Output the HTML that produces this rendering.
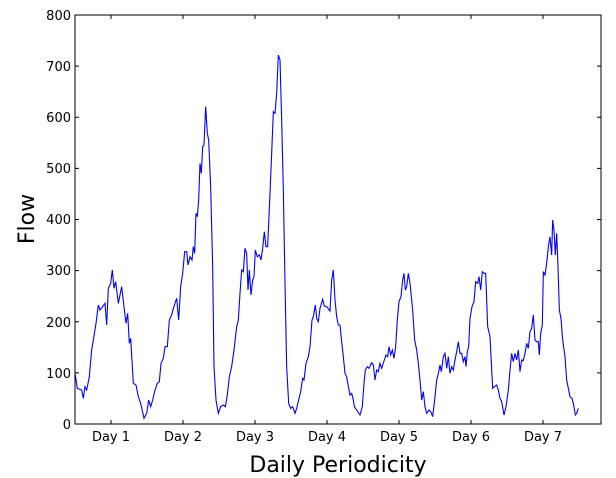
<!DOCTYPE html>
<html><head><style>
html,body{margin:0;padding:0;background:#fff;width:616px;height:478px;overflow:hidden}
svg{display:block}
text{font-family:"DejaVu Sans","Liberation Sans",sans-serif;fill:#000}
</style></head><body>
<svg width="616" height="478" viewBox="0 0 616 478">
<g transform="translate(60,0) scale(0.3333333)">
<polyline fill="none" stroke="#0000ff" stroke-width="1.1" vector-effect="non-scaling-stroke" points="45,1120 52,1165 65,1170 70,1195 75,1160 80,1170 88,1130 95,1050 100,1020 108,970 115,915 120,930 128,920 135,910 140,975 145,865 152,850 157,810 162,865 167,845 175,910 185,860 192,920 198,970 203,940 208,1030 212,1015 220,1150 228,1155 235,1190 242,1210 252,1255 260,1240 266,1200 272,1220 278,1200 285,1170 292,1150 298,1145 303,1090 310,1075 315,1040 322,1040 328,960 335,945 340,925 350,895 356,960 362,860 368,820 374,755 380,755 384,795 390,770 396,780 400,740 404,760 408,640 412,650 416,600 420,490 424,520 428,440 432,435 437,320 442,400 446,420 452,560 458,800 462,1100 468,1200 475,1240 482,1220 490,1215 496,1220 502,1185 508,1130 515,1100 522,1050 530,980 535,960 540,880 545,810 550,815 555,745 560,760 564,870 568,810 573,885 578,840 582,830 586,750 592,770 598,765 603,780 608,745 613,695 618,740 623,740 630,580 635,460 640,335 645,340 650,280 655,165 660,180 665,360 670,570 675,850 680,1100 686,1210 692,1225 698,1220 705,1240 710,1225 716,1200 722,1175 728,1135 732,1140 738,1090 745,1070 750,1040 756,960 760,950 766,915 770,955 775,965 780,925 788,898 793,918 800,920 810,933 815,840 820,810"/>
</g>
<g transform="translate(320,0) scale(0.3333333)">
<polyline fill="none" stroke="#0000ff" stroke-width="1.1" vector-effect="non-scaling-stroke" points="40,810 45,900 50,950 55,975 60,975 65,1025 70,1070 75,1120 80,1130 85,1160 90,1185 95,1180 100,1200 103,1220 110,1230 120,1245 127,1220 132,1150 136,1110 142,1100 147,1105 155,1088 160,1095 165,1140 170,1110 175,1115 180,1090 185,1105 193,1080 198,1065 203,1070 207,1040 212,1065 217,1050 222,1075 227,1040 232,960 237,905 243,890 248,840 252,820 256,870 260,860 265,820 270,850 278,930 284,1020 290,1050 295,1090 300,1140 305,1200 310,1175 315,1220 320,1240 327,1230 332,1235 338,1250 344,1200 350,1140 355,1120 360,1095 364,1115 370,1070 375,1060 380,1105 385,1070 390,1120 395,1100 400,1110 405,1080 410,1055 415,1025 420,1060 425,1060 430,1085 435,1070 438,1100 442,1055 446,1040 450,955 456,920 462,905 467,845 473,850 477,830 482,870 487,815 492,820 497,820 503,980 510,1010 518,1165 523,1160 530,1155 535,1170 540,1195 545,1205 552,1245 558,1220 565,1170 570,1110 575,1060 580,1085 585,1060 590,1080 595,1050 600,1115 605,1080 610,1082 615,1060 620,1030 625,1045 630,995 635,985 640,945 645,1020 650,1025 655,1025 658,1065 662,1000 667,975 670,815 675,825 680,790 685,740 690,710 695,765 698,660 702,690 706,765 710,700 714,800 718,930 723,955 728,1020 735,1070 740,1140 745,1165 750,1190 756,1195 760,1210 766,1245 770,1240 775,1225"/>
</g>
<rect x="75" y="15" width="526" height="409" fill="none" stroke="#000" stroke-width="1"/>
<g stroke="#000" stroke-width="1">
<path d="M111,424v-4M183,424v-4M255,424v-4M327,424v-4M399,424v-4M471,424v-4M543,424v-4"/>
<path d="M111,15v4M183,15v4M255,15v4M327,15v4M399,15v4M471,15v4M543,15v4"/>
<path d="M75,372.9h4M75,321.8h4M75,270.6h4M75,219.5h4M75,168.4h4M75,117.3h4M75,66.1h4"/>
<path d="M601,372.9h-4M601,321.8h-4M601,270.6h-4M601,219.5h-4M601,168.4h-4M601,117.3h-4M601,66.1h-4"/>
</g>
<g font-size="13" text-anchor="end">
<text x="71" y="429">0</text>
<text x="71" y="378">100</text>
<text x="71" y="327">200</text>
<text x="71" y="275">300</text>
<text x="71" y="224">400</text>
<text x="71" y="173">500</text>
<text x="71" y="122">600</text>
<text x="71" y="71">700</text>
<text x="71" y="20">800</text>
</g>
<g font-size="13" text-anchor="middle">
<text x="111" y="441">Day 1</text>
<text x="183" y="441">Day 2</text>
<text x="255" y="441">Day 3</text>
<text x="327" y="441">Day 4</text>
<text x="399" y="441">Day 5</text>
<text x="471" y="441">Day 6</text>
<text x="543" y="441">Day 7</text>
</g>
<text x="338" y="472" font-size="22" text-anchor="middle">Daily Periodicity</text>
<text transform="translate(34,219) rotate(-90)" font-size="22" text-anchor="middle">Flow</text>
</svg>
</body></html>
